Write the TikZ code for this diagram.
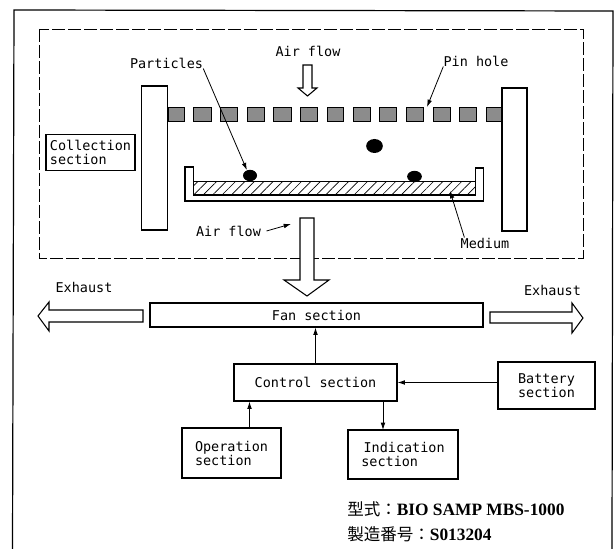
\documentclass[tikz,border=0pt]{standalone}
\usepackage{fontspec}
\setmainfont{Liberation Serif}
\setmonofont{DejaVu Sans Mono}
\newfontfamily\cjk{Noto Sans CJK JP}
\usetikzlibrary{arrows.meta,patterns.meta,shapes.geometric}

\tikzset{
  secbox/.style={draw, line width=0.8pt, inner sep=0pt, font=\ttfamily\fontsize{10.1}{10.5}\selectfont},
  tag/.style={inner sep=0pt, font=\ttfamily\fontsize{10.1}{10.5}\selectfont},
  wall/.style={draw, fill=white, line width=0.8pt, inner sep=0pt},
  speck/.style={ellipse, fill=black, inner sep=0pt},
  lead/.style={-{Latex[length=5.5pt,width=3.5pt]}, line width=0.6pt},
  bigarrow/.style={draw, fill=white, line width=0.8pt},
  modelline/.style={inner sep=0pt, anchor=west, font=\fontsize{12.4}{13}\selectfont}
}
\newcommand{\modeltext}[1]{{\fontsize{13}{13}\selectfont\bfseries #1}}

\begin{document}
\begin{tikzpicture}[x=0.75pt, y=-0.75pt]
  \useasboundingbox (0,0) rectangle (615,549);
  \newcommand{\pinblock}[2]{\draw[fill=black!45, line width=0.7pt] (#1,107) rectangle (#2,121);}
  % casing and collection area
  \draw[line width=0.9pt] (12.5,549) -- (14,10) -- (613,11) -- (612,549);
  \draw[line width=0.7pt, dash pattern=on 9.5pt off 2.5pt] (39,29) rectangle (583,258);
  % pin hole plate
  \pinblock{168}{184}
  \pinblock{193}{211}
  \pinblock{220}{237}
  \pinblock{247}{264}
  \pinblock{273}{291}
  \pinblock{300}{317}
  \pinblock{327}{343}
  \pinblock{353}{370}
  \pinblock{379}{396}
  \pinblock{406}{423}
  \pinblock{433}{450}
  \pinblock{459}{476}
  \pinblock{486}{502}
  \node[wall, minimum width=19.5pt, minimum height=108pt] (leftwall) at (154.5,158) {};
  \node[wall, minimum width=18.75pt, minimum height=107.25pt] (rightwall) at (514.5,159.5) {};
  % medium in its tray
  \draw[line width=0.8pt] (185,167) -- (193.5,167) -- (193.5,195) -- (475.5,195)
    -- (475.5,168) -- (483.5,168) -- (483.5,201) -- (185,201) -- cycle;
  \draw[line width=0.7pt, pattern={Lines[angle=45, distance=5pt, line width=0.5pt]}]
    (193.5,181.5) rectangle (475.5,195);
  \node[speck, minimum width=10.5pt, minimum height=8.5pt] (speckA) at (250,175.5) {};
  \node[speck, minimum width=12.5pt, minimum height=10.5pt] (speckB) at (374.5,146) {};
  \node[speck, minimum width=11pt, minimum height=8.5pt] (speckC) at (414.5,176.5) {};
  % air flow
  \draw[bigarrow] (303,65) -- (312,65) -- (312,88) -- (317,88) -- (307.5,96) -- (298,88) -- (303,88) -- cycle;
  \draw[bigarrow] (300,218) -- (314,218) -- (314,280) -- (329,280) -- (307,296) -- (284,280) -- (300,280) -- cycle;
  \draw[bigarrow] (143,310) -- (49,310) -- (49,302) -- (38,316) -- (49,331) -- (49,322) -- (143,322) -- cycle;
  \draw[bigarrow] (490,312) -- (572,312) -- (572,303) -- (583,318) -- (572,333) -- (572,323) -- (490,323) -- cycle;
  % labels
  \node[tag] (airtop) at (308,51) {Air flow};
  \node[tag] (particles) at (166.5,63) {Particles};
  \node[tag] (pinhole) at (476,61) {Pin hole};
  \node[tag] (medium) at (485,243) {Medium};
  \node[tag] (airlow) at (228.5,231) {Air flow};
  \node[tag] (exhaustL) at (84,287) {Exhaust};
  \node[tag] (exhaustR) at (552.5,290) {Exhaust};
  \coordinate (pintip) at (427,107);
  \coordinate (mediumtip) at (450,191);
  \coordinate (airtip) at (291,224);
  \draw[lead] (particles.south east) -- (speckA.120);
  \draw[lead] (pinhole.south west) -- (pintip);
  \draw[lead] ([xshift=3pt]medium.north west) -- (mediumtip);
  \draw[lead] ([xshift=4pt]airlow.east) -- (airtip);
  % sections
  \node[secbox, minimum width=66.75pt, minimum height=27.5pt, align=left] (collection) at (90.5,152.5)
    {Collection\\section};
  \node[secbox, minimum width=249.75pt, minimum height=18pt] (fan) at (316.5,315) {Fan section};
  \node[secbox, minimum width=122.25pt, minimum height=27.75pt] (control) at (315.5,382.5) {Control section};
  \node[secbox, minimum width=74.25pt, minimum height=37.5pt, align=left] (operation) at (231.5,453)
    {Operation\\section};
  \node[secbox, minimum width=82.5pt, minimum height=36.75pt, align=left] (indication) at (403,454.5)
    {\,Indication\\section};
  \node[secbox, minimum width=72.75pt, minimum height=35.25pt, align=left] (battery) at (546.5,385.5)
    {Battery\\section};
  \coordinate (opertop) at (249.5,428);
  \coordinate (indictop) at (383,430);
  \draw[lead] (control.north) -- (control.north |- fan.south);
  \draw[lead] (opertop) -- (opertop |- control.south);
  \draw[lead] (indictop |- control.south) -- (indictop);
  \draw[lead] (battery.west |- control.east) -- (control.east);
  % model and serial number
  \node[modelline] (model) at (347,509) {{\cjk 型式：}\modeltext{BIO SAMP MBS-1000}};
  \node[modelline] (serial) at (347,534) {{\cjk 製造番号：}\modeltext{S013204}};
\end{tikzpicture}
\end{document}
